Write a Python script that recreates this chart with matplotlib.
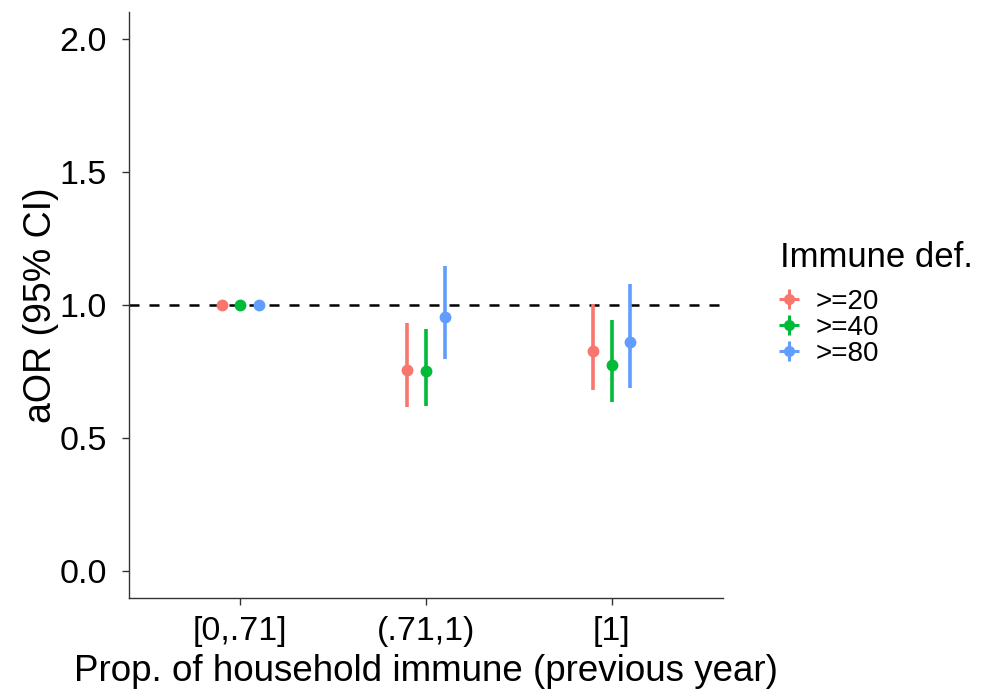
import numpy as np
import matplotlib.pyplot as plt
from matplotlib.lines import Line2D

plt.rcParams['font.family'] = ['Liberation Sans', 'DejaVu Sans']

# data
categories = ['[0,.71]', '(.71,1)', '[1]']
groups = ['>=20', '>=40', '>=80']
colors = ['#F8766D', '#00BA38', '#619CFF']
est = {'>=20': [1.0, 0.757, 0.828],
       '>=40': [1.0, 0.753, 0.775],
       '>=80': [1.0, 0.955, 0.861]}
lo = {'>=20': [1.0, 0.615, 0.682],
      '>=40': [1.0, 0.622, 0.634],
      '>=80': [1.0, 0.798, 0.689]}
hi = {'>=20': [1.0, 0.934, 1.005],
      '>=40': [1.0, 0.910, 0.944],
      '>=80': [1.0, 1.146, 1.080]}

fig = plt.figure(figsize=(9.89, 6.98), dpi=100)
ax = fig.add_axes([0.1304, 0.1433, 0.6006, 0.8397])

ax.axhline(1.0, color='black', lw=1.8, ls=(0, (4, 4)), zorder=1)

x = np.arange(1, len(categories) + 1)
offs = [-0.1, 0.0, 0.1]
handles = []
for g, c, o in zip(groups, colors, offs):
    xx = x + o
    ax.vlines(xx, lo[g], hi[g], color=c, lw=2.6, zorder=2)
    ax.plot(xx, est[g], 'o', color=c, ms=7.5, zorder=3, ls='none')
    h1 = Line2D([], [], marker='+', color=c, ms=15, mew=2.2, ls='none')
    h2 = Line2D([], [], marker='o', color=c, ms=7, ls='none')
    handles.append((h1, h2))

ax.set_xlim(0.4, 3.6)
ax.set_ylim(-0.1, 2.1)
ax.set_xticks(x)
ax.set_xticklabels(categories)
ax.set_yticks([0.0, 0.5, 1.0, 1.5, 2.0])
ax.set_yticklabels(['0.0', '0.5', '1.0', '1.5', '2.0'])
ax.tick_params(labelsize=24.5, length=5, width=1, color='#333333', labelcolor='black')
ax.tick_params(axis='x', pad=8)
ax.tick_params(axis='y', pad=11)
for s in ['top', 'right']:
    ax.spines[s].set_visible(False)
for s in ['left', 'bottom']:
    ax.spines[s].set_linewidth(1)
    ax.spines[s].set_color('#333333')

ax.set_xlabel('Prop. of household immune (previous year)', fontsize=26.5, labelpad=5)
ax.set_ylabel('aOR (95% CI)', fontsize=27, labelpad=0)

# legend title drawn as text, entries as a legend below it
fig.text(0.789, 1 - 258 / 698, 'Immune def.', fontsize=25, va='center', ha='left')
leg = fig.legend(handles, groups, loc='upper left',
                 bbox_to_anchor=(0.784, 1 - 289 / 698), frameon=False, fontsize=20,
                 handlelength=1.0, handletextpad=0.45,
                 labelspacing=0, borderpad=0, borderaxespad=0)

fig.savefig('out.png', dpi=100)
